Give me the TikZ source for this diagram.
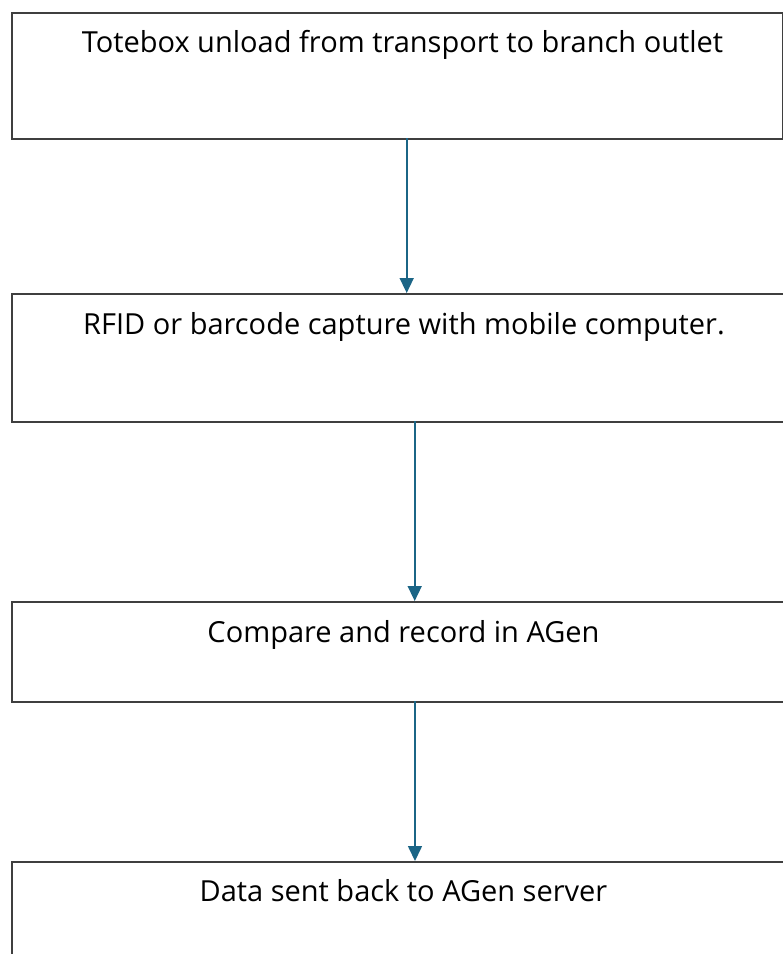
\documentclass[tikz,border=0pt]{standalone}
\usepackage{fontspec}
\setmainfont{Open Sans}
\usetikzlibrary{arrows.meta}
\definecolor{boxline}{HTML}{3F3F3F}
\definecolor{arrowblue}{HTML}{1B6586}
\tikzset{
  box/.style={draw=boxline, line width=1.5pt, anchor=north west, inner sep=0pt},
  lbl/.style={font=\fontsize{29}{33}\selectfont, text=black, inner sep=0pt, anchor=base},
  conn/.style={draw=arrowblue, line width=1.6pt, -{Triangle[width=14pt,length=15pt]}}
}
\begin{document}
\begin{tikzpicture}[x=1pt,y=-1pt]
\useasboundingbox (0,0) rectangle (783,954);
\clip (0,0) rectangle (783,954);
\fill[white] (0,0) rectangle (783,954);
\node[box, minimum width=771pt, minimum height=126pt] (b1) at (11,12) {};
\node[box, minimum width=800pt, minimum height=128pt] (b2) at (11,293) {};
\node[box, minimum width=800pt, minimum height=100pt] (b3) at (11,601) {};
\node[box, minimum width=800pt, minimum height=160pt] (b4) at (11,861) {};
\node[lbl] (t1) at (402.5,52) {Totebox unload from transport to branch outlet};
\node[lbl] (t2) at (404,334) {RFID or barcode capture with mobile computer.};
\node[lbl] (t3) at (403.5,642) {Compare and record in AGen};
\node[lbl] (t4) at (403.5,901) {Data sent back to AGen server};
\coordinate (a1s) at (406.7,138);
\coordinate (a2s) at (414.7,421);
\coordinate (a3s) at (415,701);
\draw[conn] (a1s) -- (a1s |- b2.north);
\draw[conn] (a2s) -- (a2s |- b3.north);
\draw[conn] (a3s) -- (a3s |- b4.north);
\end{tikzpicture}
\end{document}
